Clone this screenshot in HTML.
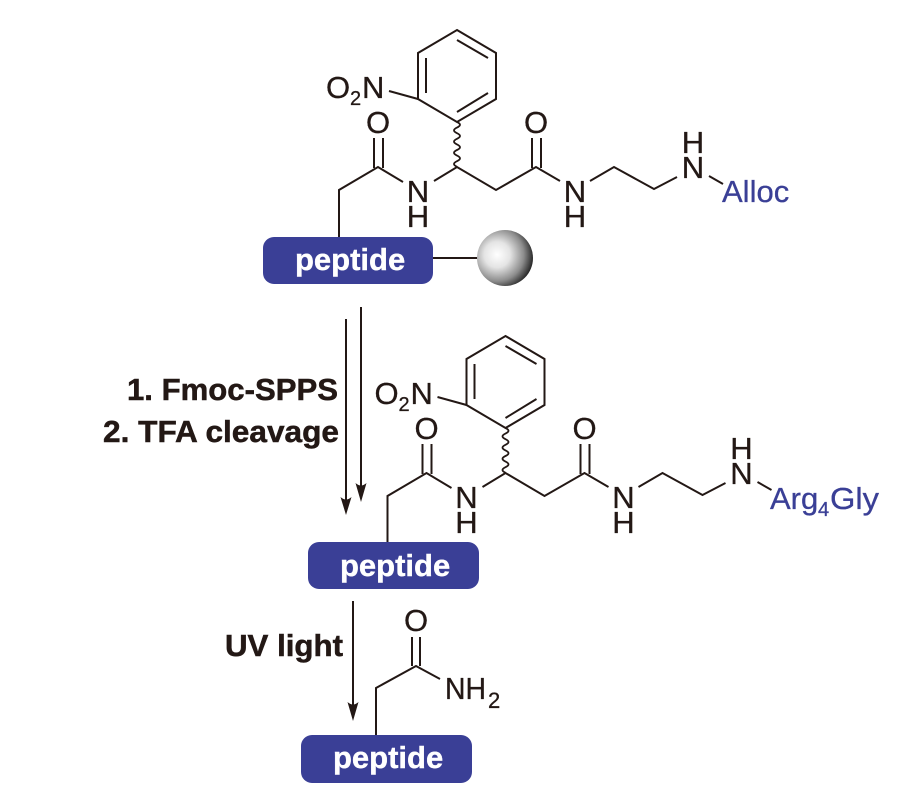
<!DOCTYPE html>
<html>
<head>
<meta charset="utf-8">
<style>
html,body{margin:0;padding:0;background:#fff;}
svg{display:block;filter:blur(0.35px);}
text{font-family:"Liberation Sans",Arial,sans-serif;fill:#231815;stroke:#231815;stroke-width:0.3px;}
.a{font-size:31px;text-anchor:middle;}
.b{font-weight:bold;font-size:31px;stroke-width:0.5px;}
.w{font-weight:bold;fill:#fff;stroke:#fff;stroke-width:0.4px;font-size:31px;}
.c{fill:#3a3f96;stroke:#3a3f96;font-size:31px;}
.l{fill:none;stroke:#231815;stroke-width:2;stroke-linejoin:miter;}
.v{fill:none;stroke:#231815;stroke-width:1.8;}
</style>
</head>
<body>
<svg width="916" height="798" viewBox="0 0 916 798" xmlns="http://www.w3.org/2000/svg">
<defs>
<radialGradient id="ball" cx="36%" cy="44%" r="66%">
<stop offset="0" stop-color="#fff"/>
<stop offset="0.35" stop-color="#e4e4e4"/>
<stop offset="0.72" stop-color="#8c8c8c"/>
<stop offset="0.95" stop-color="#333"/>
<stop offset="1" stop-color="#222"/>
</radialGradient>
</defs>

<!-- Top molecule -->
<g>
<path class="l" d="M457 30L496 53V99L457 122L418 99V53Z"/>
<path class="l" d="M457 40L488 58M426 58V93M488 93L457 112M389 91L418 99"/>
<path class="v" d="M457 122q6 2.800 0 5.600q-6 2.800 0 5.600q6 2.800 0 5.600q-6 2.800 0 5.600q6 2.800 0 5.600q-6 2.800 0 5.600q6 2.800 0 5.600q-6 2.800 0 5.600"/>
<path class="l" d="M339 237V190L378 167L403 182M434 181L457 167L496 190L536 167L560 181M590 181L614 167L654 189L677 177M709 176L723 184"/>
<path class="l" d="M374 138V168M383 138V168M532 138V168M541 138V168"/>
<text x="326" y="98" font-size="31">O</text>
<text x="350" y="105" font-size="20">2</text>
<text x="362" y="98" font-size="31">N</text>
<text class="a" x="378" y="133">O</text>
<text class="a" x="536" y="133">O</text>
<text class="a" x="418" y="202">N</text>
<text class="a" x="418" y="227">H</text>
<text class="a" x="575" y="202">N</text>
<text class="a" x="575" y="227">H</text>
<text class="a" x="693" y="178">N</text>
<text class="a" x="693" y="153">H</text>
<text class="c" x="722" y="202">Alloc</text>
</g>
<rect x="263" y="237" width="170" height="47" rx="11" fill="#3a3f96"/>
<text class="w" x="295" y="270">peptide</text>
<path class="l" d="M433 258H478"/>
<circle cx="505" cy="258" r="28" fill="url(#ball)"/>

<!-- Arrows -->
<path class="l" d="M346 319V505M361 307V492M353 601V711"/>
<path fill="#231815" d="M346 515L340.500 497Q346 502 351.500 497ZM361 502L355.500 483Q361 488 366.500 483ZM353 721L347.500 702Q353 707 358.500 702Z"/>
<text class="b" x="127" y="400" textLength="211" lengthAdjust="spacingAndGlyphs">1. Fmoc-SPPS</text>
<text class="b" x="103" y="442" textLength="236" lengthAdjust="spacingAndGlyphs">2. TFA cleavage</text>
<text class="b" x="225" y="656" textLength="118" lengthAdjust="spacingAndGlyphs">UV light</text>

<!-- Middle molecule -->
<g transform="translate(48.500,306)">
<path class="l" d="M457 30L496 53V99L457 122L418 99V53Z"/>
<path class="l" d="M457 40L488 58M426 58V93M488 93L457 112M389 91L418 99"/>
<path class="v" d="M457 122q6 2.800 0 5.600q-6 2.800 0 5.600q6 2.800 0 5.600q-6 2.800 0 5.600q6 2.800 0 5.600q-6 2.800 0 5.600q6 2.800 0 5.600q-6 2.800 0 5.600"/>
<path class="l" d="M339 236V190L378 167L403 182M434 181L457 167L496 190L536 167L560 181M590 181L614 167L654 189L677 177M709 176L723 184"/>
<path class="l" d="M374 138V168M383 138V168M532 138V168M541 138V168"/>
<text x="326" y="98" font-size="31">O</text>
<text x="350" y="105" font-size="20">2</text>
<text x="362" y="98" font-size="31">N</text>
<text class="a" x="378" y="133">O</text>
<text class="a" x="536" y="133">O</text>
<text class="a" x="418" y="202">N</text>
<text class="a" x="418" y="227">H</text>
<text class="a" x="575" y="202">N</text>
<text class="a" x="575" y="227">H</text>
<text class="a" x="693" y="178">N</text>
<text class="a" x="693" y="153">H</text>
</g>
<text class="c" x="770" y="509">Arg</text>
<text class="c" x="818" y="516" style="font-size:20px">4</text>
<text class="c" x="830" y="509" textLength="49" lengthAdjust="spacingAndGlyphs">Gly</text>
<rect x="308" y="542" width="171" height="47" rx="11" fill="#3a3f96"/>
<text class="w" x="340" y="576">peptide</text>

<!-- Bottom -->
<path class="l" d="M376 735V688L416 666L440 679M412 637V666M420 637V666"/>
<text class="a" x="416" y="631">O</text>
<text x="445" y="699" font-size="31" textLength="41" lengthAdjust="spacingAndGlyphs">NH</text>
<text x="488" y="708" font-size="22">2</text>
<rect x="301" y="735" width="171" height="48" rx="11" fill="#3a3f96"/>
<text class="w" x="333" y="768">peptide</text>
</svg>
</body>
</html>
